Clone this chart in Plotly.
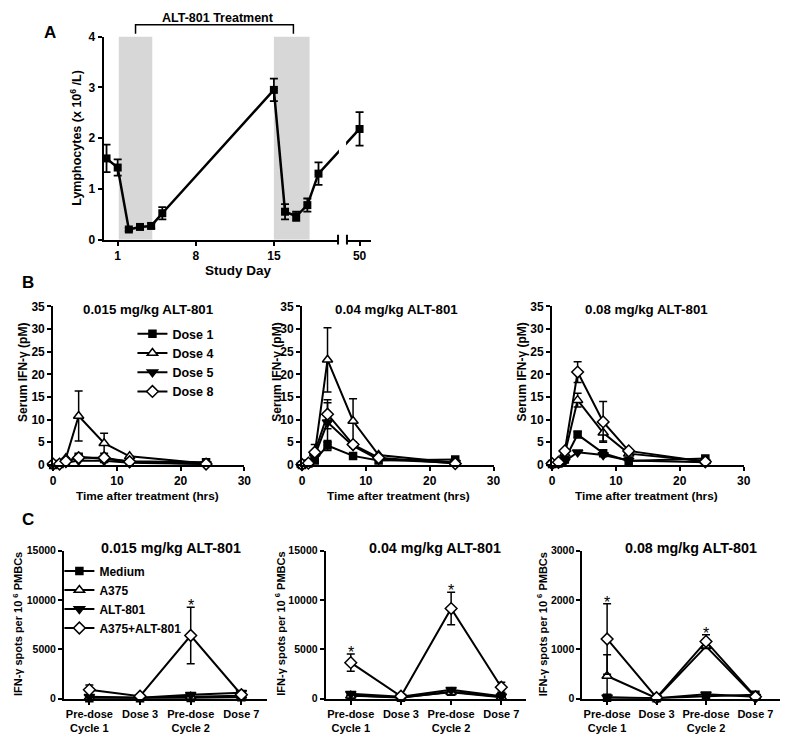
import plotly.graph_objects as go

W, H = 800, 742
OFF = 8  # the page body margin shifts the figure by 8 px
FW, FH = W - OFF, H - OFF
FONT = "Liberation Sans, Arial, sans-serif"

# ---------------- Panel A: lymphocytes ----------------
lymph_day = [0, 1, 2, 3, 4, 5, 15, 16, 17, 18, 19, 50]
lymph_mean = [1.60, 1.42, 0.20, 0.25, 0.27, 0.52, 2.95, 0.55, 0.46, 0.68, 1.30, 2.18]
lymph_sem = [0.27, 0.16, 0.03, 0.03, 0.05, 0.12, 0.22, 0.15, 0.09, 0.13, 0.22, 0.33]
lymph_ticks = [1, 8, 15, 50]
shade_days = [(1.1, 4.1), (15.0, 18.2)]
treatment_days = (2.6, 16.75)

# ---------------- Panel B: serum IFN-g ----------------
hours = [0, 1, 2, 4, 8, 12, 24]
dose_names = ["Dose 1", "Dose 4", "Dose 5", "Dose 8"]
b_titles = ["0.015 mg/kg ALT-801", "0.04 mg/kg ALT-801", "0.08 mg/kg ALT-801"]

b015 = {
    "Dose 1": [0.0, 0.2, 0.7, 1.8, 1.3, 0.8, 0.6],
    "Dose 4": [0.2, 0.3, 1.5, 10.8, 4.8, 1.9, 0.3],
    "Dose 5": [0.0, 0.1, 0.5, 1.0, 0.9, 0.5, 0.2],
    "Dose 8": [0.2, 0.2, 0.8, 1.6, 1.6, 0.7, 0.2],
}
b015_err = {
    "Dose 1": [0, 0, 0, 0.3, 0, 0, 0],
    "Dose 4": [0, 0, 0, 5.5, 2.2, 0, 0],
    "Dose 5": [0, 0, 0, 0, 0, 0, 0],
    "Dose 8": [0, 0, 0, 0, 0, 0, 0],
}
b004 = {
    "Dose 1": [0.0, 0.3, 1.0, 4.3, 2.0, 1.0, 1.2],
    "Dose 4": [0.0, 0.5, 2.5, 23.2, 9.7, 2.2, 0.5],
    "Dose 5": [0.0, 0.3, 2.0, 9.4, 4.2, 1.2, 0.5],
    "Dose 8": [0.1, 0.4, 2.8, 11.2, 4.5, 1.6, 0.3],
}
b004_err = {
    "Dose 1": [0, 0, 0.5, 1.1, 0, 0, 0],
    "Dose 4": [0, 0, 0, 7.1, 4.9, 0, 0],
    "Dose 5": [0, 0, 0, 4.3, 0, 0, 0],
    "Dose 8": [0, 0, 1.7, 3.2, 0.6, 0, 0],
}
b008 = {
    "Dose 1": [0.2, 0.3, 1.2, 6.7, 2.6, 0.9, 1.4],
    "Dose 4": [0.3, 0.6, 2.5, 14.3, 7.1, 2.5, 0.8],
    "Dose 5": [0.1, 0.3, 0.8, 2.8, 2.2, 1.0, 0.6],
    "Dose 8": [0.3, 0.6, 3.1, 20.5, 9.5, 3.1, 0.7],
}
b008_err = {
    "Dose 1": [0, 0, 0, 0.6, 0, 0, 0],
    "Dose 4": [0, 0, 0, 1.5, 1.8, 0, 0],
    "Dose 5": [0, 0, 0, 0, 0, 0, 0],
    "Dose 8": [0, 0, 0, 2.3, 4.5, 0, 0],
}

# ---------------- Panel C: ELISpot ----------------
c_categories = ["Pre-dose<br>Cycle 1", "Dose 3", "Pre-dose<br>Cycle 2", "Dose 7"]
stim_names = ["Medium", "A375", "ALT-801", "A375+ALT-801"]

c015 = {
    "Medium": [50, 50, 80, 150],
    "A375": [150, 100, 200, 300],
    "ALT-801": [200, 100, 400, 600],
    "A375+ALT-801": [900, 250, 6400, 400],
}
c015_err = {
    "Medium": [0, 0, 0, 0],
    "A375": [0, 0, 0, 0],
    "ALT-801": [0, 0, 0, 150],
    "A375+ALT-801": [500, 0, 2850, 0],
}
c004 = {
    "Medium": [350, 100, 700, 200],
    "A375": [300, 150, 650, 150],
    "ALT-801": [500, 200, 900, 250],
    "A375+ALT-801": [3650, 250, 9130, 1160],
}
c004_err = {
    "Medium": [0, 0, 0, 0],
    "A375": [0, 0, 0, 0],
    "ALT-801": [0, 0, 200, 0],
    "A375+ALT-801": [880, 0, 1650, 500],
}
c008 = {
    "Medium": [20, 10, 50, 80],
    "A375": [460, 10, 1060, 30],
    "ALT-801": [30, 10, 90, 40],
    "A375+ALT-801": [1210, 20, 1160, 40],
}
c008_err = {
    "Medium": [0, 0, 0, 0],
    "A375": [430, 0, 0, 0],
    "ALT-801": [0, 0, 0, 0],
    "A375+ALT-801": [715, 0, 135, 0],
}
c_stars = [[2], [0, 2], [0, 2]]
c_titles = ["0.015 mg/kg ALT-801", "0.04 mg/kg ALT-801", "0.08 mg/kg ALT-801"]
c_ymax = [15000, 15000, 3000]


# ---------------- helpers (positions given in page pixels) ----------------
def dom_x(left, right):
    return [(left - OFF) / FW, (right - OFF) / FW]


def dom_y(top, bottom):
    return [1 - (bottom - OFF) / FH, 1 - (top - OFF) / FH]


def px(x, y):
    return (x - OFF) / FW, 1 - (y - OFF) / FH


# broken x-axis for panel A: days after 20.7 are shifted left
A_BREAK_LO = 20.7
A_SHIFT = 27.32


def day_to_axis(d):
    return d if d <= A_BREAK_LO else d - A_SHIFT


def tfont(size):
    return dict(family=FONT, size=size, color="black", weight="bold")


axis_style = dict(
    showline=True, linewidth=2, linecolor="black",
    ticks="outside", ticklen=4, tickwidth=2, tickcolor="black",
    showgrid=False, zeroline=False, tickfont=tfont(12),
)

SYMBOLS = [
    dict(symbol="square", color="black", size=7, line=dict(color="black", width=1.5)),
    dict(symbol="triangle-up", color="white", size=9, line=dict(color="black", width=1.5)),
    dict(symbol="triangle-down", color="black", size=9, line=dict(color="black", width=1.5)),
    dict(symbol="diamond", color="white", size=9, line=dict(color="black", width=1.5)),
]

fig = go.Figure()

# ---------------- Panel A traces ----------------
fig.add_trace(go.Scatter(
    x=[day_to_axis(d) for d in lymph_day], y=lymph_mean,
    mode="lines+markers",
    line=dict(color="black", width=2.5),
    marker=dict(symbol="square", size=8, color="black"),
    error_y=dict(type="data", array=lymph_sem, color="black", thickness=1.8, width=4),
    xaxis="x", yaxis="y", showlegend=False, cliponaxis=False,
))

# ---------------- Panel B traces ----------------
b_sets = [(b015, b015_err), (b004, b004_err), (b008, b008_err)]
for i, (vals, errs) in enumerate(b_sets):
    ax = i + 2
    for j, name in enumerate(dose_names):
        fig.add_trace(go.Scatter(
            x=hours, y=vals[name], name=f"<b>{name}</b>",
            mode="lines+markers",
            line=dict(color="black", width=2),
            marker=SYMBOLS[j],
            error_y=dict(type="data", array=errs[name], arrayminus=errs[name],
                         color="black", thickness=1.5, width=4),
            xaxis=f"x{ax}", yaxis=f"y{ax}",
            showlegend=(i == 0), legend="legend", cliponaxis=False,
        ))

# ---------------- Panel C traces ----------------
c_sets = [(c015, c015_err), (c004, c004_err), (c008, c008_err)]
for i, (vals, errs) in enumerate(c_sets):
    ax = i + 5
    for j, name in enumerate(stim_names):
        fig.add_trace(go.Scatter(
            x=c_categories, y=vals[name], name=f"<b>{name}</b>",
            mode="lines+markers",
            line=dict(color="black", width=2),
            marker=SYMBOLS[j],
            error_y=dict(type="data", array=errs[name], arrayminus=errs[name],
                         color="black", thickness=1.5, width=4),
            xaxis=f"x{ax}", yaxis=f"y{ax}",
            showlegend=(i == 0), legend="legend2", cliponaxis=False,
        ))

# ---------------- axes ----------------
layout_axes = {}
layout_axes["xaxis"] = dict(
    axis_style, domain=dom_x(101.7, 373), range=[-0.27, 23.74], anchor="y",
    tickvals=[day_to_axis(d) for d in lymph_ticks], ticktext=[str(d) for d in lymph_ticks],
)
layout_axes["yaxis"] = dict(axis_style, domain=dom_y(30, 237), range=[0, 4], dtick=1, anchor="x")

b_boxes = [(50.7, 244.3), (302.7, 496.7), (556, 750)]
for i, (l, r) in enumerate(b_boxes):
    ax = i + 2
    layout_axes[f"xaxis{ax}"] = dict(axis_style, domain=dom_x(l, r), range=[0, 30],
                                     tickvals=[0, 10, 20, 30], anchor=f"y{ax}")
    layout_axes[f"yaxis{ax}"] = dict(axis_style, domain=dom_y(305, 466.7), range=[0, 35],
                                     dtick=5, anchor=f"x{ax}")

c_boxes = [(61.7, 267), (326.7, 530), (586.7, 787)]
for i, (l, r) in enumerate(c_boxes):
    ax = i + 5
    layout_axes[f"xaxis{ax}"] = dict(axis_style, domain=dom_x(l, r), range=[-0.5, 3.5],
                                     type="category", anchor=f"y{ax}", tickfont=tfont(11))
    layout_axes[f"yaxis{ax}"] = dict(axis_style, domain=dom_y(554, 705), range=[0, c_ymax[i]],
                                     tickvals=[c_ymax[i] * k / 3 for k in range(4)],
                                     tickformat="d", anchor=f"x{ax}", tickfont=tfont(10.5))

# ---------------- shapes ----------------
shapes = []
for lo, hi in shade_days:
    shapes.append(dict(type="rect", xref="x", yref="y", x0=lo, x1=hi, y0=0, y1=4,
                       fillcolor="rgb(215,215,215)", line=dict(width=0), layer="below"))

# axis break (white gap + end ticks)
brk_lo, brk_hi = 20.75, 21.55
shapes.append(dict(type="rect", xref="x", yref="y domain", x0=brk_lo + 0.08, x1=brk_hi - 0.08,
                   y0=-0.05, y1=0.98, fillcolor="white", line=dict(width=0), layer="above"))
for bx in (brk_lo, brk_hi):
    shapes.append(dict(type="line", xref="x", yref="paper", x0=bx, x1=bx,
                       y0=px(0, 242)[1], y1=px(0, 232)[1],
                       line=dict(color="black", width=2), layer="above"))

# treatment bracket
t0, t1 = treatment_days
yb_top, yb_bot = px(0, 18)[1], px(0, 27)[1]
shapes.append(dict(type="path", xref="x", yref="paper",
                   path=f"M {t0},{yb_bot} L {t0},{yb_top} L {t1},{yb_top} L {t1},{yb_bot}",
                   line=dict(color="black", width=1.5)))

# ---------------- annotations ----------------
ann = []


def text(x, y, s, size=12, angle=0):
    ax_, ay_ = px(x, y)
    ann.append(dict(x=ax_, y=ay_, xref="paper", yref="paper", text=s, showarrow=False,
                    textangle=angle, xanchor="center", yanchor="middle", font=tfont(size)))


text(47, 26, "A", 17)
text(25, 281, "B", 17)
text(25, 522, "C", 17)

text(218, 11, "ALT-801 Treatment", 12.5)
text(238, 268, "Study Day", 13.5)
text(73, 133, "Lymphocytes (x 10<sup>6</sup> /L)", 12.5, angle=-90)

b_title_x = [147, 398, 652]
b_ytitle_x = [20, 277, 526]
b_xtitle_x = [146, 400, 652]
for i in range(3):
    text(b_title_x[i], 308, b_titles[i], 13.3)
    text(b_xtitle_x[i], 498, "Time after treatment (hrs)", 11.8)
    text(b_ytitle_x[i], 372, "Serum IFN-γ (pM)", 12, angle=-90)

c_title_x = [170, 437, 697]
c_ytitle_x = [15, 281, 546]
for i in range(3):
    text(c_title_x[i], 551, c_titles[i], 14.3)
    text(c_ytitle_x[i], 629, "IFN-γ spots per 10 <sup>6</sup> PMBCs", 11, angle=-90)

# significance stars just above the A375+ALT-801 error bars
for i, (vals, errs) in enumerate(c_sets):
    for k in c_stars[i]:
        top = vals["A375+ALT-801"][k] + errs["A375+ALT-801"][k]
        ann.append(dict(x=k, y=top, xref=f"x{i + 5}", yref=f"y{i + 5}",
                        text="*", showarrow=False, yanchor="bottom", yshift=-9,
                        font=dict(family=FONT, size=16, color="black")))

fig.update_layout(
    width=FW, height=FH,
    margin=dict(l=0, r=0, t=0, b=0),
    paper_bgcolor="white", plot_bgcolor="white",
    font=dict(family=FONT, size=11, color="black"),
    shapes=shapes, annotations=ann,
    legend=dict(x=px(131, 0)[0], y=px(0, 318)[1], xanchor="left", yanchor="top",
                font=dict(family=FONT, size=12.5, color="black"),
                itemwidth=30, bgcolor="rgba(0,0,0,0)", tracegroupgap=0),
    legend2=dict(x=px(57, 0)[0], y=px(0, 560)[1], xanchor="left", yanchor="top",
                 font=dict(family=FONT, size=12, color="black"),
                 itemwidth=30, bgcolor="rgba(0,0,0,0)", tracegroupgap=0),
    **layout_axes,
)

fig.write_html("out.html", config={"displayModeBar": False})
